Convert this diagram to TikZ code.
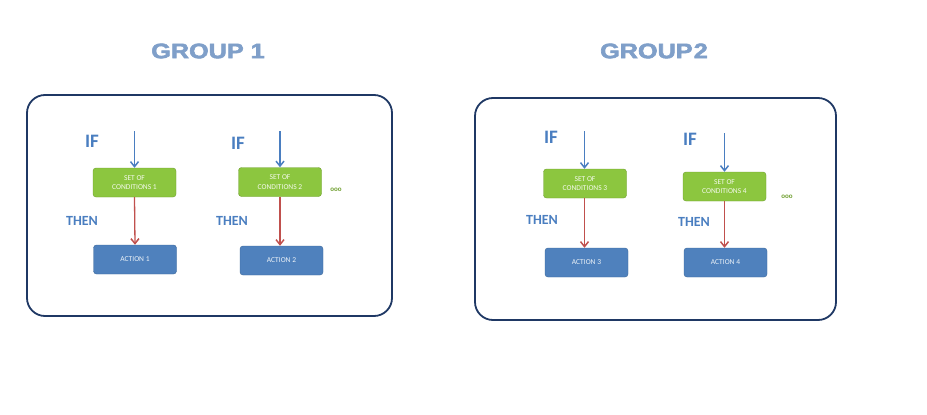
\documentclass[tikz,border=0pt]{standalone}
\usepackage{fontspec}
\setmainfont{Carlito}
\newfontfamily\titlefont[FakeBold=2.5]{Liberation Sans}
\usetikzlibrary{arrows.meta}
\definecolor{navy}{HTML}{1F3864}
\definecolor{cgreen}{HTML}{8CC63F}
\definecolor{cgreenb}{HTML}{6E9E2E}
\definecolor{cblue}{HTML}{4F81BD}
\definecolor{cblueb}{HTML}{3A6698}
\definecolor{lbl}{HTML}{4A7EC0}
\definecolor{ttl}{HTML}{7F9FC9}
\definecolor{arrblue}{HTML}{4A7EC0}
\definecolor{arrred}{HTML}{C0504D}
\tikzset{
  x=1pt,y=-1pt,
  grp/.style={draw=navy,line width=1.8pt,rounded corners=18pt},
  condbox/.style={draw=cgreenb,fill=cgreen,rounded corners=3pt,minimum width=83pt,minimum height=29pt,inner sep=0pt,align=center,font=\fontsize{7.5}{9.5}\selectfont,text=white!90!cgreen},
  actbox/.style={draw=cblueb,fill=cblue,rounded corners=3pt,minimum width=83pt,minimum height=29pt,inner sep=0pt,align=center,font=\fontsize{7.5}{9.5}\selectfont,text=white!90!cblue},
  iflbl/.style={font=\fontsize{19}{20}\selectfont\bfseries,text=lbl,inner sep=0pt},
  thenlbl/.style={font=\fontsize{14}{16}\selectfont\bfseries,text=lbl,inner sep=0pt},
  ttlbl/.style={font=\titlefont\fontsize{21}{22}\selectfont\bfseries,text=ttl,inner sep=0pt,xscale=1.2},
  ifarr/.style={draw=arrblue,line width=1.3pt,-{Straight Barb[length=5pt,width=8pt,line width=1.5pt]}},
  thenarr/.style={draw=arrred,line width=1.3pt,-{Straight Barb[length=5pt,width=8pt,line width=1.5pt]}},
  dots/.style={font=\fontsize{7}{8}\selectfont\bfseries,text=cgreenb,inner sep=0pt}
}
\begin{document}
\begin{tikzpicture}
\useasboundingbox (0,0) rectangle (927,415);
% titles
\node[ttlbl] (t1) at (208,51) {GROUP 1};
\node[ttlbl] (t2) at (654,51) {GROUP\hspace{1pt}2};
% group boxes
\draw[grp] (27,95) rectangle (392,316);
\draw[grp] (475,98) rectangle (836,320);
% group 1
\node[condbox] (c1) at (134.5,182.5) {SET OF\\CONDITIONS 1};
\node[actbox] (a1) at (135,259.5) {ACTION 1};
\coordinate (s1) at (134.5,131);
\draw[ifarr] (s1) -- (c1.north);
\draw[thenarr] (c1.south) -- (a1.north);
\node[iflbl] (if1) at (92,141) {IF};
\node[thenlbl] (th1) at (82,221) {THEN};
\node[condbox] (c2) at (280,182) {SET OF\\CONDITIONS 2};
\node[actbox] (a2) at (281.5,260.5) {ACTION 2};
\coordinate (s2) at (280,131);
\draw[ifarr] (s2) -- (c2.north);
\draw[thenarr] (c2.south) -- (a2.north -| c2.south);
\node[iflbl] (if2) at (238,143) {IF};
\node[thenlbl] (th2) at (232,221) {THEN};
\node[dots] (d1) at (336,190) {ooo};
% group 2
\node[condbox] (c3) at (585,183.5) {SET OF\\CONDITIONS 3};
\node[actbox] (a3) at (586.5,262.5) {ACTION 3};
\coordinate (s3) at (584.5,131);
\draw[ifarr] (s3) -- (c3.north -| s3);
\draw[thenarr] (c3.south -| s3) -- (a3.north -| s3);
\node[iflbl] (if3) at (551,137) {IF};
\node[thenlbl] (th3) at (542,220) {THEN};
\node[condbox] (c4) at (724.5,186.5) {SET OF\\CONDITIONS 4};
\node[actbox] (a4) at (725.5,262.5) {ACTION 4};
\coordinate (s4) at (724.5,133);
\draw[ifarr] (s4) -- (c4.north);
\draw[thenarr] (c4.south) -- (a4.north -| c4.south);
\node[iflbl] (if4) at (690,139) {IF};
\node[thenlbl] (th4) at (694,222) {THEN};
\node[dots] (d2) at (787,197) {ooo};
\end{tikzpicture}
\end{document}
